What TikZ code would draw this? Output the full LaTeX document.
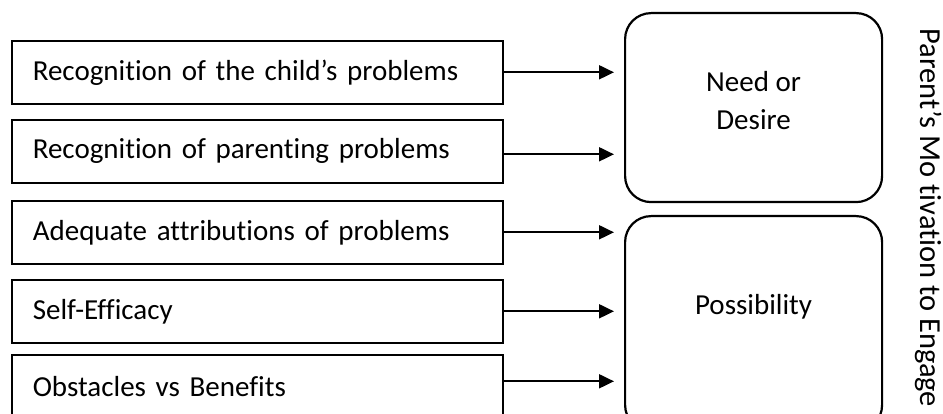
\documentclass[tikz,border=0pt]{standalone}
\usepackage{fontspec}
\setmainfont{Carlito}[Ligatures=NoCommon]
\usetikzlibrary{arrows.meta}
\begin{document}
\begin{tikzpicture}[x=1pt,y=-1pt,
  lbox/.style={draw,line width=1.6pt,minimum width=491pt,minimum height=63pt,
    text width=449pt,align=left,inner xsep=21pt,inner ysep=0pt,anchor=north west,
    font=\fontsize{29}{34}\selectfont},
  rbox/.style={draw,line width=2.2pt,rounded corners=26pt,minimum width=257pt,anchor=north west},
  lbl/.style={font=\fontsize{29}{38}\selectfont,align=center},
  arr/.style={line width=2pt,-{Triangle[length=15pt,width=14pt]}}]
\clip (0,0) rectangle (943,414);
\node[lbox] (b1) at (11,40) {Recognition of the child’s problems};
\node[lbox] (b2) at (11,119) {Recognition of parenting problems};
\node[lbox] (b3) at (11,200) {Adequate attributions of problems};
\node[lbox] (b4) at (11,279) {Self-Efficacy};
\node[lbox] (b5) at (11,354) {Obstacles vs Benefits};
\node[rbox,minimum height=189pt] (need) at (624,12) {};
\node[rbox,minimum height=215pt] (poss) at (624,215) {};
\node[lbl] (needt) at ([yshift=7pt]need.center) {Need or\\Desire};
\node[lbl] (posst) at ([yshift=17pt]poss.center) {Possibility};
\node[rotate=-90,anchor=north,inner sep=0pt,font=\fontsize{30.5}{34}\selectfont] (title) at (942,218) {Parent’s Mo tivation to Engage};
\draw[arr,shorten >=10pt] (b1.east) -- (b1.east -| need.west);
\draw[arr,shorten >=10pt] ([yshift=-3pt]b2.east) -- ([yshift=-3pt]b2.east -| need.west);
\draw[arr,shorten >=10pt] (b3.east) -- (b3.east -| poss.west);
\draw[arr,shorten >=10pt] (b4.east) -- (b4.east -| poss.west);
\draw[arr,shorten >=10pt] ([yshift=5pt]b5.east) -- ([yshift=5pt]b5.east -| poss.west);
\end{tikzpicture}
\end{document}
